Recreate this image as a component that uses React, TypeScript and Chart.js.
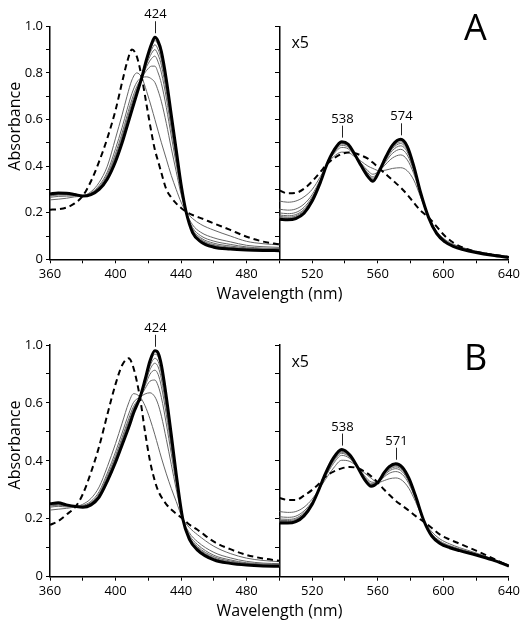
import React, { useEffect, useRef } from "react";
import { Chart, registerables } from "chart.js";

Chart.register(...registerables);

const FONT = "'Open Sans', 'DejaVu Sans', sans-serif";

// ---------- tick labels ----------
const X_TICK_VALUES = [360, 400, 440, 480, 520, 560, 600, 640];
const X_TICK_LABELS = ["360", "400", "440", "480", "520", "560", "600", "640"];
const Y_TICK_VALUES_A = [0, 0.2, 0.4, 0.6, 0.8, 1.0];
const Y_TICK_LABELS_A = ["0", "0.2", "0.4", "0.6", "0.8", "1.0"];
const Y_TICK_VALUES_B = [0, 0.2, 0.4, 0.6, 0.8];
const Y_TICK_LABELS_B = ["0", "0.2", "0.4", "0.6", "1.0"];

// ---------- Panel A : Soret region (360-500 nm) ----------
const WL_A_SORET = [360, 365, 370, 375, 380, 385, 390, 395, 400, 404, 407, 410, 413, 416, 419, 422, 424, 426, 428, 431, 434, 437, 440, 443, 447, 452, 460, 470, 480, 490, 500];
const A_SORET_START = [0.213, 0.215, 0.222, 0.24, 0.272, 0.335, 0.42, 0.52, 0.64, 0.76, 0.845, 0.9, 0.87, 0.78, 0.66, 0.54, 0.47, 0.42, 0.37, 0.3, 0.265, 0.24, 0.22, 0.205, 0.19, 0.177, 0.154, 0.126, 0.097, 0.076, 0.064];
const A_SORET_FINAL = [0.28, 0.285, 0.283, 0.278, 0.272, 0.278, 0.3, 0.345, 0.42, 0.5, 0.57, 0.64, 0.71, 0.78, 0.86, 0.925, 0.953, 0.935, 0.89, 0.77, 0.62, 0.47, 0.32, 0.205, 0.115, 0.075, 0.052, 0.044, 0.04, 0.038, 0.037];
const A_SORET_T1 = [0.255, 0.258, 0.262, 0.268, 0.272, 0.29, 0.33, 0.4, 0.52, 0.62, 0.7, 0.77, 0.8, 0.78, 0.72, 0.65, 0.6, 0.55, 0.5, 0.43, 0.36, 0.3, 0.245, 0.205, 0.175, 0.15, 0.125, 0.1, 0.077, 0.067, 0.062];
const A_SORET_T2 = [0.266, 0.27, 0.271, 0.272, 0.272, 0.285, 0.317, 0.375, 0.475, 0.566, 0.642, 0.712, 0.76, 0.78, 0.783, 0.774, 0.759, 0.723, 0.676, 0.583, 0.477, 0.377, 0.279, 0.205, 0.148, 0.116, 0.092, 0.075, 0.06, 0.054, 0.051];
const A_SORET_T3 = [0.271, 0.276, 0.276, 0.275, 0.272, 0.282, 0.311, 0.364, 0.455, 0.542, 0.616, 0.686, 0.742, 0.78, 0.811, 0.829, 0.829, 0.8, 0.754, 0.651, 0.529, 0.41, 0.294, 0.205, 0.136, 0.101, 0.078, 0.064, 0.053, 0.048, 0.046];
const A_SORET_T4 = [0.274, 0.279, 0.278, 0.276, 0.272, 0.281, 0.307, 0.358, 0.443, 0.528, 0.6, 0.67, 0.731, 0.78, 0.828, 0.862, 0.872, 0.846, 0.8, 0.692, 0.56, 0.431, 0.303, 0.205, 0.129, 0.092, 0.069, 0.057, 0.049, 0.045, 0.043];
const A_SORET_T5 = [0.276, 0.281, 0.28, 0.277, 0.272, 0.28, 0.305, 0.353, 0.435, 0.518, 0.59, 0.66, 0.724, 0.78, 0.839, 0.884, 0.9, 0.877, 0.832, 0.719, 0.581, 0.445, 0.309, 0.205, 0.124, 0.086, 0.063, 0.052, 0.046, 0.042, 0.041];
const A_SORET_T6 = [0.278, 0.283, 0.281, 0.277, 0.272, 0.279, 0.303, 0.35, 0.429, 0.511, 0.582, 0.652, 0.718, 0.78, 0.847, 0.9, 0.921, 0.9, 0.855, 0.739, 0.597, 0.455, 0.313, 0.205, 0.12, 0.082, 0.059, 0.049, 0.043, 0.041, 0.039];
const A_SORET_T7 = [0.279, 0.284, 0.282, 0.278, 0.272, 0.278, 0.301, 0.347, 0.424, 0.505, 0.575, 0.645, 0.714, 0.78, 0.854, 0.914, 0.939, 0.92, 0.874, 0.756, 0.61, 0.463, 0.317, 0.205, 0.117, 0.078, 0.055, 0.046, 0.041, 0.039, 0.038];

// ---------- Panel A : Q-band region (500-640 nm, x5) ----------
const WL_A_Q = [500, 505, 510, 515, 520, 525, 529, 533, 538, 542, 546, 550, 554, 557, 561, 565, 569, 574, 578, 582, 586, 591, 596, 601, 606, 612, 620, 630, 640];
const A_Q_START = [0.296, 0.283, 0.285, 0.303, 0.335, 0.375, 0.408, 0.432, 0.452, 0.458, 0.455, 0.445, 0.432, 0.415, 0.39, 0.365, 0.34, 0.308, 0.278, 0.243, 0.21, 0.18, 0.14, 0.1, 0.072, 0.05, 0.033, 0.019, 0.01];
const A_Q_FINAL = [0.172, 0.17, 0.175, 0.198, 0.25, 0.33, 0.408, 0.465, 0.505, 0.494, 0.45, 0.4, 0.355, 0.335, 0.38, 0.44, 0.49, 0.515, 0.485, 0.4, 0.29, 0.18, 0.11, 0.075, 0.056, 0.042, 0.029, 0.017, 0.008];
const A_Q_T1 = [0.25, 0.245, 0.25, 0.268, 0.3, 0.355, 0.408, 0.44, 0.46, 0.458, 0.44, 0.42, 0.4, 0.39, 0.38, 0.383, 0.39, 0.393, 0.38, 0.34, 0.27, 0.18, 0.12, 0.085, 0.065, 0.05, 0.035, 0.022, 0.012];
const A_Q_T2 = [0.215, 0.211, 0.216, 0.237, 0.278, 0.344, 0.408, 0.451, 0.48, 0.474, 0.445, 0.411, 0.38, 0.365, 0.38, 0.409, 0.435, 0.448, 0.427, 0.367, 0.279, 0.18, 0.116, 0.081, 0.061, 0.046, 0.032, 0.02, 0.01];
const A_Q_T3 = [0.199, 0.196, 0.201, 0.223, 0.268, 0.339, 0.408, 0.456, 0.489, 0.481, 0.447, 0.407, 0.371, 0.354, 0.38, 0.42, 0.455, 0.472, 0.448, 0.379, 0.283, 0.18, 0.114, 0.079, 0.059, 0.045, 0.031, 0.019, 0.009];
const A_Q_T4 = [0.19, 0.187, 0.192, 0.214, 0.262, 0.336, 0.408, 0.459, 0.495, 0.486, 0.448, 0.405, 0.365, 0.348, 0.38, 0.427, 0.467, 0.487, 0.461, 0.386, 0.285, 0.18, 0.112, 0.077, 0.058, 0.044, 0.03, 0.018, 0.009];
const A_Q_T5 = [0.184, 0.181, 0.186, 0.209, 0.258, 0.334, 0.408, 0.461, 0.498, 0.489, 0.449, 0.403, 0.362, 0.343, 0.38, 0.431, 0.475, 0.497, 0.469, 0.391, 0.287, 0.18, 0.112, 0.077, 0.057, 0.043, 0.03, 0.018, 0.009];
const A_Q_T6 = [0.179, 0.177, 0.182, 0.204, 0.255, 0.332, 0.408, 0.463, 0.501, 0.491, 0.449, 0.402, 0.359, 0.34, 0.38, 0.435, 0.481, 0.504, 0.476, 0.395, 0.288, 0.18, 0.111, 0.076, 0.057, 0.043, 0.03, 0.017, 0.008];
const A_Q_T7 = [0.175, 0.173, 0.178, 0.201, 0.252, 0.331, 0.408, 0.464, 0.503, 0.493, 0.45, 0.401, 0.357, 0.337, 0.38, 0.438, 0.486, 0.51, 0.481, 0.398, 0.289, 0.18, 0.11, 0.075, 0.056, 0.042, 0.029, 0.017, 0.008];

// ---------- Panel B : Soret region ----------
const WL_B_SORET = [360, 365, 370, 376, 380, 385, 390, 395, 400, 404, 408, 411, 415, 418, 421, 424, 426, 428, 431, 434, 437, 441, 445, 450, 460, 470, 480, 490, 500];
const B_SORET_START = [0.179, 0.192, 0.214, 0.245, 0.285, 0.36, 0.45, 0.56, 0.665, 0.73, 0.754, 0.72, 0.615, 0.5, 0.4, 0.33, 0.297, 0.275, 0.25, 0.232, 0.218, 0.2, 0.18, 0.162, 0.121, 0.095, 0.075, 0.063, 0.055];
const B_SORET_FINAL = [0.252, 0.255, 0.248, 0.242, 0.24, 0.248, 0.275, 0.33, 0.395, 0.455, 0.515, 0.565, 0.62, 0.68, 0.745, 0.78, 0.772, 0.73, 0.62, 0.49, 0.355, 0.2, 0.13, 0.092, 0.058, 0.046, 0.04, 0.037, 0.036];
const B_SORET_T1 = [0.23, 0.233, 0.236, 0.242, 0.25, 0.27, 0.31, 0.38, 0.46, 0.53, 0.6, 0.632, 0.62, 0.59, 0.545, 0.49, 0.45, 0.41, 0.355, 0.305, 0.26, 0.2, 0.17, 0.145, 0.105, 0.08, 0.064, 0.056, 0.052];
const B_SORET_T2 = [0.24, 0.243, 0.241, 0.242, 0.246, 0.26, 0.294, 0.358, 0.431, 0.496, 0.562, 0.602, 0.62, 0.631, 0.635, 0.621, 0.595, 0.554, 0.474, 0.388, 0.303, 0.2, 0.152, 0.121, 0.084, 0.065, 0.053, 0.047, 0.045];
const B_SORET_T3 = [0.244, 0.247, 0.244, 0.242, 0.244, 0.256, 0.287, 0.348, 0.418, 0.481, 0.545, 0.588, 0.62, 0.649, 0.675, 0.679, 0.659, 0.618, 0.527, 0.425, 0.322, 0.2, 0.144, 0.111, 0.074, 0.058, 0.048, 0.044, 0.042];
const B_SORET_T4 = [0.247, 0.25, 0.245, 0.242, 0.242, 0.253, 0.283, 0.342, 0.41, 0.472, 0.535, 0.58, 0.62, 0.659, 0.699, 0.713, 0.698, 0.656, 0.559, 0.447, 0.333, 0.2, 0.139, 0.104, 0.069, 0.054, 0.046, 0.041, 0.04];
const B_SORET_T5 = [0.249, 0.252, 0.246, 0.242, 0.241, 0.251, 0.28, 0.338, 0.405, 0.466, 0.528, 0.575, 0.62, 0.667, 0.715, 0.737, 0.724, 0.682, 0.58, 0.462, 0.341, 0.2, 0.136, 0.1, 0.065, 0.051, 0.044, 0.04, 0.038];
const B_SORET_T6 = [0.25, 0.253, 0.247, 0.242, 0.241, 0.25, 0.278, 0.335, 0.401, 0.462, 0.523, 0.571, 0.62, 0.672, 0.727, 0.754, 0.743, 0.701, 0.596, 0.473, 0.346, 0.2, 0.134, 0.097, 0.062, 0.049, 0.042, 0.039, 0.037];
const B_SORET_T7 = [0.251, 0.254, 0.248, 0.242, 0.24, 0.249, 0.276, 0.332, 0.398, 0.458, 0.518, 0.568, 0.62, 0.676, 0.737, 0.768, 0.759, 0.717, 0.609, 0.483, 0.351, 0.2, 0.132, 0.094, 0.06, 0.047, 0.041, 0.038, 0.037];

// ---------- Panel B : Q-band region (x5) ----------
const WL_B_Q = [500, 505, 510, 515, 520, 524, 528, 533, 538, 543, 548, 552, 556, 560, 564, 567, 571, 575, 579, 583, 588, 593, 598, 604, 610, 620, 630, 640];
const B_Q_START = [0.272, 0.265, 0.265, 0.28, 0.3, 0.32, 0.345, 0.363, 0.374, 0.379, 0.374, 0.363, 0.347, 0.325, 0.3, 0.283, 0.262, 0.245, 0.228, 0.21, 0.19, 0.168, 0.145, 0.128, 0.114, 0.09, 0.064, 0.037];
const B_Q_FINAL = [0.185, 0.185, 0.19, 0.21, 0.25, 0.3, 0.355, 0.41, 0.439, 0.42, 0.375, 0.335, 0.312, 0.325, 0.36, 0.38, 0.39, 0.378, 0.34, 0.28, 0.195, 0.14, 0.115, 0.1, 0.09, 0.075, 0.058, 0.037];
const B_Q_T1 = [0.225, 0.222, 0.225, 0.24, 0.268, 0.3, 0.335, 0.375, 0.402, 0.398, 0.378, 0.358, 0.34, 0.325, 0.332, 0.338, 0.341, 0.332, 0.305, 0.26, 0.195, 0.155, 0.13, 0.113, 0.1, 0.082, 0.062, 0.04];
const B_Q_T2 = [0.207, 0.205, 0.209, 0.227, 0.26, 0.3, 0.344, 0.391, 0.419, 0.408, 0.377, 0.348, 0.327, 0.325, 0.345, 0.357, 0.363, 0.353, 0.321, 0.269, 0.195, 0.148, 0.123, 0.107, 0.096, 0.079, 0.06, 0.039];
const B_Q_T3 = [0.199, 0.198, 0.202, 0.221, 0.256, 0.3, 0.348, 0.398, 0.426, 0.412, 0.376, 0.343, 0.322, 0.325, 0.35, 0.365, 0.373, 0.362, 0.328, 0.273, 0.195, 0.145, 0.12, 0.105, 0.094, 0.077, 0.059, 0.038];
const B_Q_T4 = [0.194, 0.194, 0.198, 0.217, 0.254, 0.3, 0.35, 0.402, 0.43, 0.415, 0.376, 0.34, 0.318, 0.325, 0.354, 0.37, 0.379, 0.367, 0.332, 0.275, 0.195, 0.143, 0.118, 0.103, 0.092, 0.077, 0.059, 0.038];
const B_Q_T5 = [0.191, 0.191, 0.195, 0.215, 0.253, 0.3, 0.352, 0.405, 0.433, 0.417, 0.375, 0.338, 0.316, 0.325, 0.356, 0.374, 0.383, 0.371, 0.335, 0.277, 0.195, 0.142, 0.117, 0.102, 0.092, 0.076, 0.059, 0.037];
const B_Q_T6 = [0.189, 0.188, 0.193, 0.213, 0.252, 0.3, 0.353, 0.407, 0.436, 0.418, 0.375, 0.337, 0.315, 0.325, 0.357, 0.376, 0.386, 0.374, 0.337, 0.278, 0.195, 0.141, 0.116, 0.101, 0.091, 0.076, 0.058, 0.037];
const B_Q_T7 = [0.187, 0.186, 0.191, 0.211, 0.251, 0.3, 0.354, 0.409, 0.438, 0.419, 0.375, 0.336, 0.313, 0.325, 0.359, 0.378, 0.388, 0.376, 0.339, 0.279, 0.195, 0.14, 0.115, 0.1, 0.09, 0.075, 0.058, 0.037];

// ---------- peak annotations ----------
const PEAK_X_A = [424, 538, 574];
const PEAK_Y_A = [0.953, 0.505, 0.515];
const PEAK_LABELS_A = ["424", "538", "574"];
const PEAK_X_B = [424, 538, 571];
const PEAK_Y_B = [0.78, 0.439, 0.39];
const PEAK_LABELS_B = ["424", "538", "571"];

type Kind = "start" | "final" | "step";

function makeLine(wl: number[], vals: number[], kind: Kind) {
  const base: any = {
    data: wl.map((x, i) => ({ x, y: vals[i] })),
    xAxisID: "x",
    yAxisID: "y",
    pointRadius: 0,
    pointHoverRadius: 0,
    fill: false,
    cubicInterpolationMode: "monotone",
  };
  if (kind === "start") return { ...base, borderColor: "#000", borderWidth: 2, borderDash: [6, 4] };
  if (kind === "final") return { ...base, borderColor: "#000", borderWidth: 3 };
  return { ...base, borderColor: "#666666", borderWidth: 1 };
}

function regionDatasets(wl: number[], start: number[], final: number[], steps: number[][]) {
  // first dataset is drawn on top
  return [
    makeLine(wl, start, "start"),
    makeLine(wl, final, "final"),
    ...steps.slice().reverse().map((s) => makeLine(wl, s, "step")),
  ];
}

interface Spec {
  letter: string;
  canvasH: number;
  areaTop: number;
  areaBottom: number;
  yMax: number;
  letterBaseline: number;
  yTickValues: number[];
  yTickLabels: string[];
  peakX: number[];
  peakY: number[];
  peakLabels: string[];
  datasets: any[];
}

const SPEC_A: Spec = {
  letter: "A",
  canvasH: 305,
  areaTop: 26.3,
  areaBottom: 259.3,
  yMax: 1,
  letterBaseline: 40,
  yTickValues: Y_TICK_VALUES_A,
  yTickLabels: Y_TICK_LABELS_A,
  peakX: PEAK_X_A,
  peakY: PEAK_Y_A,
  peakLabels: PEAK_LABELS_A,
  datasets: [
    ...regionDatasets(WL_A_SORET, A_SORET_START, A_SORET_FINAL, [A_SORET_T1, A_SORET_T2, A_SORET_T3, A_SORET_T4, A_SORET_T5, A_SORET_T6, A_SORET_T7]),
    ...regionDatasets(WL_A_Q, A_Q_START, A_Q_FINAL, [A_Q_T1, A_Q_T2, A_Q_T3, A_Q_T4, A_Q_T5, A_Q_T6, A_Q_T7]),
  ],
};

const SPEC_B: Spec = {
  letter: "B",
  canvasH: 320,
  areaTop: 40,
  areaBottom: 271.7,
  yMax: 0.8,
  letterBaseline: 65,
  yTickValues: Y_TICK_VALUES_B,
  yTickLabels: Y_TICK_LABELS_B,
  peakX: PEAK_X_B,
  peakY: PEAK_Y_B,
  peakLabels: PEAK_LABELS_B,
  datasets: [
    ...regionDatasets(WL_B_SORET, B_SORET_START, B_SORET_FINAL, [B_SORET_T1, B_SORET_T2, B_SORET_T3, B_SORET_T4, B_SORET_T5, B_SORET_T6, B_SORET_T7]),
    ...regionDatasets(WL_B_Q, B_Q_START, B_Q_FINAL, [B_Q_T1, B_Q_T2, B_Q_T3, B_Q_T4, B_Q_T5, B_Q_T6, B_Q_T7]),
  ],
};

function lookup(values: number[], labels: string[], v: number) {
  for (let i = 0; i < values.length; i++) {
    if (Math.abs(values[i] - v) < 1e-6) return labels[i];
  }
  return "";
}

function makeChart(canvas: HTMLCanvasElement, spec: Spec) {
  const annotations = {
    id: "panelAnnotations",
    afterDraw(chart: any) {
      const { ctx, chartArea, scales } = chart;
      const xs = scales.x;
      const ys = scales.y;
      ctx.save();
      ctx.fillStyle = "#000";
      ctx.strokeStyle = "#222";
      ctx.lineWidth = 1;
      // peak labels
      ctx.font = `13px ${FONT}`;
      ctx.textAlign = "center";
      ctx.textBaseline = "alphabetic";
      spec.peakX.forEach((px, i) => {
        const X = Math.round(xs.getPixelForValue(px)) + 0.5;
        const Y = ys.getPixelForValue(spec.peakY[i]);
        ctx.beginPath();
        ctx.moveTo(X, Y - 16);
        ctx.lineTo(X, Y - 4);
        ctx.stroke();
        ctx.fillText(spec.peakLabels[i], X, Y - 19);
      });
      // x5 marker
      ctx.textAlign = "left";
      ctx.font = `16px ${FONT}`;
      ctx.fillText("x5", xs.getPixelForValue(500) + 12, chartArea.top + 21.7);
      // panel letter
      ctx.font = `36px ${FONT}`;
      ctx.fillText(spec.letter, 464, spec.letterBaseline);
      // axis titles
      ctx.font = `16px ${FONT}`;
      ctx.textAlign = "center";
      ctx.fillText("Wavelength (nm)", (chartArea.left + chartArea.right) / 2, chartArea.bottom + 39.5);
      ctx.save();
      ctx.translate(20, chartArea.top + 100);
      ctx.rotate(-Math.PI / 2);
      ctx.fillText("Absorbance", 0, 0);
      ctx.restore();
      ctx.restore();
    },
  };

  const axisGrid = {
    display: true,
    drawOnChartArea: false,
    drawTicks: true,
    tickLength: 4,
    color: "#000",
    lineWidth: 1,
  };
  const axisBorder = { display: true, color: "#000", width: 1.5 };

  return new Chart(canvas, {
    type: "line",
    data: { datasets: spec.datasets },
    plugins: [annotations],
    options: {
      responsive: false,
      animation: false,
      events: [],
      layout: { padding: { top: spec.areaTop, right: 13, left: 0, bottom: 0 } },
      plugins: {
        legend: { display: false },
        tooltip: { enabled: false },
        title: { display: false },
      },
      scales: {
        x: {
          type: "linear",
          position: "bottom",
          min: 360,
          max: 640,
          afterFit: (s: any) => {
            s.height = spec.canvasH - spec.areaBottom;
          },
          grid: axisGrid,
          border: axisBorder,
          ticks: {
            stepSize: 20,
            autoSkip: false,
            maxRotation: 0,
            minRotation: 0,
            padding: 3,
            color: "#000",
            font: { family: FONT, size: 13 },
            callback: (v: any) => lookup(X_TICK_VALUES, X_TICK_LABELS, Number(v)),
          },
        },
        y: {
          type: "linear",
          position: "left",
          min: 0,
          max: spec.yMax,
          afterFit: (s: any) => {
            s.width = 50;
          },
          grid: axisGrid,
          border: axisBorder,
          ticks: {
            stepSize: 0.1,
            autoSkip: false,
            padding: 3,
            color: "#000",
            font: { family: FONT, size: 13 },
            callback: (v: any) => lookup(spec.yTickValues, spec.yTickLabels, Number(v)),
          },
        },
        y2: {
          type: "linear",
          axis: "y",
          position: { x: 500 },
          min: 0,
          max: spec.yMax,
          grid: axisGrid,
          border: axisBorder,
          ticks: { stepSize: 0.1, display: false },
        },
      } as any,
    },
  } as any);
}

export default function App() {
  const refA = useRef<HTMLCanvasElement>(null);
  const refB = useRef<HTMLCanvasElement>(null);

  useEffect(() => {
    const a = makeChart(refA.current as HTMLCanvasElement, SPEC_A);
    const b = makeChart(refB.current as HTMLCanvasElement, SPEC_B);
    return () => {
      a.destroy();
      b.destroy();
    };
  }, []);

  return (
    <div style={{ position: "absolute", left: 0, top: 0, width: 523, height: 625, background: "#fff" }}>
      <canvas ref={refA} width={523} height={305} style={{ position: "absolute", left: 0, top: 0 }} />
      <canvas ref={refB} width={523} height={320} style={{ position: "absolute", left: 0, top: 305 }} />
    </div>
  );
}
